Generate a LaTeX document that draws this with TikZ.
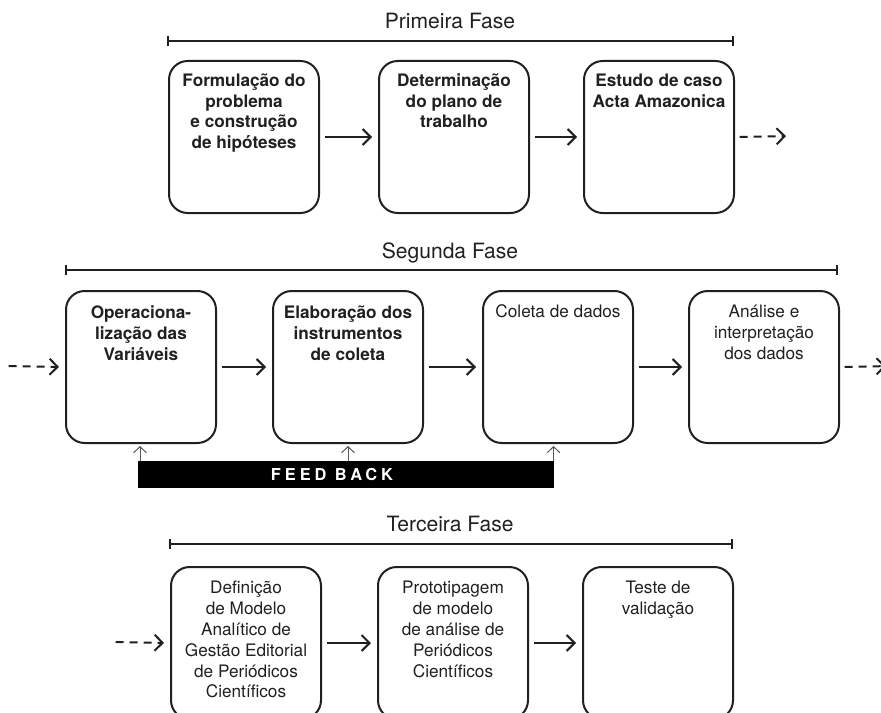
\documentclass[tikz,border=0pt]{standalone}
\usepackage{fontspec}
\setmainfont{TeX Gyre Heros}
\usetikzlibrary{arrows.meta,calc}
\definecolor{ink}{HTML}{231F20}
\definecolor{thin}{HTML}{555555}

\begin{document}
\begin{tikzpicture}[x=0.75pt,y=-0.75pt,
  stepbox/.style={draw=ink, line width=1.5pt, rounded corners=14pt,
    minimum width=112.5pt, minimum height=114pt, inner sep=0pt, anchor=north west},
  boldtxt/.style={anchor=north, align=center, inner sep=0pt, text=ink,
    font=\bfseries\fontsize{12.9pt}{15.6pt}\selectfont},
  plaintxt/.style={anchor=north, align=center, inner sep=0pt, text=ink,
    font=\fontsize{12.9pt}{15.6pt}\selectfont},
  phasetitle/.style={anchor=base, inner sep=0pt, text=ink,
    font=\fontsize{15.8pt}{18pt}\selectfont},
  phaseline/.style={draw=ink, line width=1.5pt, {Bar[width=7pt]}-{Bar[width=7pt]}},
  conn/.style={draw=ink, line width=1.5pt, -{Straight Barb[length=6pt,width=12pt]},
    shorten <=3.4pt, shorten >=4.5pt},
  dashconn/.style={conn, dash pattern=on 6pt off 4.5pt},
  fbarrow/.style={draw=thin, line width=0.75pt, -{Straight Barb[length=4.5pt,width=9.5pt]}},
  fbbar/.style={fill=black, draw=none, minimum width=312pt, minimum height=20.25pt,
    inner sep=0pt, anchor=north west},
  fbtext/.style={text=white, inner sep=0pt,
    font=\bfseries\fontsize{12.3pt}{14pt}\selectfont\addfontfeature{LetterSpace=24}}
]
\clip (0,0) rectangle (881,713);

% ---------- first phase ----------
\node[phasetitle] (p1) at (450,29) {Primeira Fase};
\draw[phaseline] (167,41) -- (734,41);

\node[stepbox] (b11) at (168,60) {};
\node[stepbox] (b12) at (378,60) {};
\node[stepbox] (b13) at (583,60) {};
\node[boldtxt] (t11) at ($(b11.north)+(0,11.5)$) {\strut Formulação do\\problema\\e construção\\de hipóteses};
\node[boldtxt] (t12) at ($(b12.north)+(0,11.5)$) {\strut Determinação\\do plano de\\trabalho};
\node[boldtxt] (t13) at ($(b13.north)+(0,11.5)$) {\strut Estudo de caso\\Acta Amazonica};
\coordinate (e1) at (792,136);
\draw[conn] (b11.east) -- (b12.west);
\draw[conn] (b12.east) -- (b13.west);
\draw[dashconn] (b13.east) -- (e1);

% ---------- second phase ----------
\node[phasetitle] (p2) at (450,258) {Segunda Fase};
\draw[phaseline] (65,270) -- (838,270);

\node[stepbox] (b21) at (65,290) {};
\node[stepbox] (b22) at (272,290) {};
\node[stepbox] (b23) at (482,290) {};
\node[stepbox] (b24) at (688,290) {};
\node[boldtxt] (t21) at ($(b21.north)+(0,14)$) {\strut Operaciona-\\lização das\\Variáveis};
\node[boldtxt] (t22) at ($(b22.north)+(0,14)$) {\strut Elaboração dos\\instrumentos\\de coleta};
\node[plaintxt] (t23) at ($(b23.north)+(0,13)$) {\strut Coleta de dados};
\node[plaintxt] (t24) at ($(b24.north)+(0,13)$) {\strut Análise e\\interpretação\\dos dados};
\coordinate (s2) at (4,366);
\coordinate (e2) at (892,366);
\draw[dashconn] (s2) -- (b21.west);
\draw[conn] (b21.east) -- (b22.west);
\draw[conn] (b22.east) -- (b23.west);
\draw[conn] (b23.east) -- (b24.west);
\draw[dashconn] (b24.east) -- (e2);

% feedback bar with its three return arrows
\node[fbbar] (fb) at (138,461) {};
\node[fbtext] (fbt) at (332,474.5) {FEED BACK};
\draw[fbarrow] ($(fb.north west)+(2,0)$) -- +(0,-15);
\draw[fbarrow] (fb.north -| b22.south) -- +(0,-15);
\draw[fbarrow] ($(fb.north east)+(-1,0)$) -- +(0,-15);

% ---------- third phase ----------
\node[phasetitle] (p3) at (450,531) {Terceira Fase};
\draw[phaseline] (169,544) -- (733,544);

\node[stepbox] (b31) at (170,566) {};
\node[stepbox] (b32) at (377,566) {};
\node[stepbox] (b33) at (582,566) {};
\node[plaintxt] (t31) at ($(b31.north)+(0,13)$) {\strut Definição\\de Modelo\\Analítico de\\Gestão Editorial\\de Periódicos\\Científicos};
\node[plaintxt] (t32) at ($(b32.north)+(0,13)$) {\strut Prototipagem\\de modelo\\de análise de\\Periódicos\\Científicos};
\node[plaintxt] (t33) at ($(b33.north)+(0,13)$) {\strut Teste de\\validação};
\coordinate (s3) at (111,642);
\draw[dashconn] (s3) -- (b31.west);
\draw[conn] (b31.east) -- (b32.west);
\draw[conn] (b32.east) -- (b33.west);
\end{tikzpicture}
\end{document}
